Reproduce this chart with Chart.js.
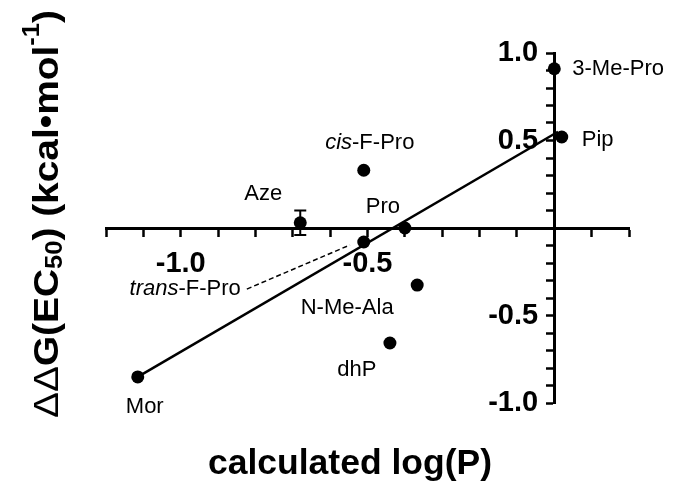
<!DOCTYPE html>
<html>
<head>
<meta charset="utf-8">
<script src="https://cdn.jsdelivr.net/npm/chart.js@4.4.0/dist/chart.umd.min.js"></script>
<style>
  html, body { margin: 0; padding: 0; background: #fff; }
</style>
</head>
<body>
<canvas id="chart" width="696" height="491"></canvas>
<script>
// DATA
// =============================================================================
const names = ['3-Me-Pro', 'Pip', 'cis-F-Pro', 'Aze', 'Pro', 'trans-F-Pro', 'N-Me-Ala', 'dhP', 'Mor'];
const logP = [0.0, 0.02, -0.51, -0.68, -0.40, -0.51, -0.367, -0.44, -1.115];
const ddG = [0.91, 0.52, 0.33, 0.03, 0.0, -0.08, -0.326, -0.657, -0.851];
const ddGErr = [0, 0, 0, 0.07, 0, 0, 0, 0, 0];

// linear fit drawn between the outer points
const fitX = [-1.115, 0.01];
const fitY = [-0.851, 0.55];

// dashed pointer from the trans-F-Pro label to its point
const leaderX = [-0.823, -0.547];
const leaderY = [-0.349, -0.097];

const xTickLabels = [-1.0, -0.5];
const yTickLabels = [-1.0, -0.5, 0.5, 1.0];

// =============================================================================
// LABEL PLACEMENT (pixel offsets from each point)
// =============================================================================
const FONT = "'Liberation Sans', Arial, Helvetica, sans-serif";

const labelStyle = {
  '3-Me-Pro':    { dx: 18,   dy: 0,   align: 'left' },
  'Pip':         { dx: 20,   dy: 3,   align: 'left' },
  'cis-F-Pro':   { dx: 6,    dy: -27, align: 'center', italic: 'cis' },
  'Aze':         { dx: -37,  dy: -29, align: 'center' },
  'Pro':         { dx: -22,  dy: -21, align: 'center' },
  'trans-F-Pro': { dx: -123, dy: 47,  align: 'right', italic: 'trans' },
  'N-Me-Ala':    { dx: -70,  dy: 23,  align: 'center' },
  'dhP':         { dx: -33,  dy: 27,  align: 'center' },
  'Mor':         { dx: 7,    dy: 30,  align: 'center' }
};

const near = (a, b) => Math.abs(a - b) < 1e-6;

/**
 * Draws a label made of an optional italic prefix and a regular rest
 */
const drawPointLabel = (ctx, name, x, y) => {
  const st = labelStyle[name];
  const size = 22;
  const prefix = st.italic || '';
  const rest = name.slice(prefix.length);
  ctx.font = `italic ${size}px ${FONT}`;
  const w1 = prefix ? ctx.measureText(prefix).width : 0;
  ctx.font = `${size}px ${FONT}`;
  const w2 = ctx.measureText(rest).width;
  const total = w1 + w2;
  let left = x + st.dx;
  if (st.align === 'center') left -= total / 2;
  if (st.align === 'right') left -= total;
  const cy = y + st.dy;
  ctx.textBaseline = 'middle';
  ctx.textAlign = 'left';
  if (prefix) {
    ctx.font = `italic ${size}px ${FONT}`;
    ctx.fillText(prefix, left, cy);
  }
  ctx.font = `${size}px ${FONT}`;
  ctx.fillText(rest, left + w1, cy);
};

/**
 * Draws a sequence of text runs along the current x direction
 */
const drawRuns = (ctx, runs, startX, baseY) => {
  let x = startX;
  runs.forEach(r => {
    ctx.font = r.font;
    ctx.fillText(r.text, x, baseY + (r.shift || 0));
    x += ctx.measureText(r.text).width;
  });
};

const runsWidth = (ctx, runs) => runs.reduce((s, r) => {
  ctx.font = r.font;
  return s + ctx.measureText(r.text).width;
}, 0);

const decorations = {
  id: 'decorations',
  beforeDatasetsDraw(chart) {
    const { ctx, scales: { x, y } } = chart;
    ctx.save();
    ctx.strokeStyle = '#000';
    ctx.lineWidth = 2;
    ddGErr.forEach((e, i) => {
      if (!e) return;
      const px = x.getPixelForValue(logP[i]);
      const top = y.getPixelForValue(ddG[i] + e);
      const bot = y.getPixelForValue(ddG[i] - e);
      ctx.beginPath();
      ctx.moveTo(px, top); ctx.lineTo(px, bot);
      ctx.moveTo(px - 6, top); ctx.lineTo(px + 6, top);
      ctx.moveTo(px - 6, bot); ctx.lineTo(px + 6, bot);
      ctx.stroke();
    });
    ctx.restore();
  },
  afterDraw(chart) {
    const { ctx, scales: { x, y } } = chart;
    ctx.save();
    ctx.fillStyle = '#000';
    names.forEach((n, i) => {
      drawPointLabel(ctx, n, x.getPixelForValue(logP[i]), y.getPixelForValue(ddG[i]));
    });

    // x axis title
    ctx.font = `bold 35.5px ${FONT}`;
    ctx.textAlign = 'center';
    ctx.textBaseline = 'alphabetic';
    ctx.fillText('calculated log(P)', 350, 474);

    // y axis title, rotated and a bit stretched, with sub- and superscript
    const big = `bold 35px ${FONT}`;
    const small = `bold 23px ${FONT}`;
    const runs = [
      { text: '\u0394\u0394', font: `35px ${FONT}` },
      { text: 'G(EC', font: big },
      { text: '50', font: small, shift: 4 },
      { text: ') (kcal\u2022mol', font: big },
      { text: '-1', font: small, shift: -19 },
      { text: ')', font: big }
    ];
    ctx.translate(58, 214);
    ctx.rotate(-Math.PI / 2);
    ctx.scale(1.11, 1);
    ctx.textAlign = 'left';
    const w = runsWidth(ctx, runs);
    drawRuns(ctx, runs, -w / 2, 0);
    ctx.restore();
  }
};

const tickFont = { family: FONT, size: 29, weight: 'bold' };

new Chart(document.getElementById('chart'), {
  type: 'scatter',
  data: {
    datasets: [
      {
        label: 'fit',
        data: fitX.map((v, i) => ({ x: v, y: fitY[i] })),
        showLine: true,
        borderColor: '#000',
        borderWidth: 2.5,
        pointRadius: 0,
        order: 2
      },
      {
        label: 'leader',
        data: leaderX.map((v, i) => ({ x: v, y: leaderY[i] })),
        showLine: true,
        borderColor: '#000',
        borderWidth: 1.5,
        borderDash: [5, 3],
        pointRadius: 0,
        order: 3
      },
      {
        label: 'residues',
        data: logP.map((v, i) => ({ x: v, y: ddG[i] })),
        backgroundColor: '#000',
        borderColor: '#000',
        borderWidth: 0,
        pointRadius: 6.5,
        order: 1
      }
    ]
  },
  options: {
    responsive: false,
    animation: false,
    layout: { padding: { left: 106, right: 67, top: 53, bottom: 88 } },
    plugins: { legend: { display: false }, tooltip: { enabled: false } },
    scales: {
      x: {
        type: 'linear',
        min: -1.2,
        max: 0.2,
        position: { y: 0 },
        afterFit: (s) => { s.height = 0; },
        border: { color: '#000', width: 3 },
        grid: { drawOnChartArea: false, tickLength: 7, tickWidth: 2.5, tickColor: '#000' },
        ticks: {
          stepSize: 0.1,
          autoSkip: false,
          maxRotation: 0,
          minRotation: 0,
          padding: 12,
          color: '#000',
          font: tickFont,
          callback: (v) => xTickLabels.some(t => near(t, v)) ? v.toFixed(1) : ''
        }
      },
      y: {
        type: 'linear',
        min: -1,
        max: 1,
        position: { x: 0 },
        afterFit: (s) => { s.width = 0; },
        border: { color: '#000', width: 3 },
        grid: { drawOnChartArea: false, tickLength: 7, tickWidth: 2.5, tickColor: '#000' },
        ticks: {
          stepSize: 0.1,
          autoSkip: false,
          color: '#000',
          font: tickFont,
          // positioned axes right-align labels on the axis line itself,
          // so two trailing spaces give the gap seen in the figure
          callback: (v) => yTickLabels.some(t => near(t, v)) ? v.toFixed(1) + '  ' : ''
        }
      }
    }
  },
  plugins: [decorations]
});
</script>
</body>
</html>
